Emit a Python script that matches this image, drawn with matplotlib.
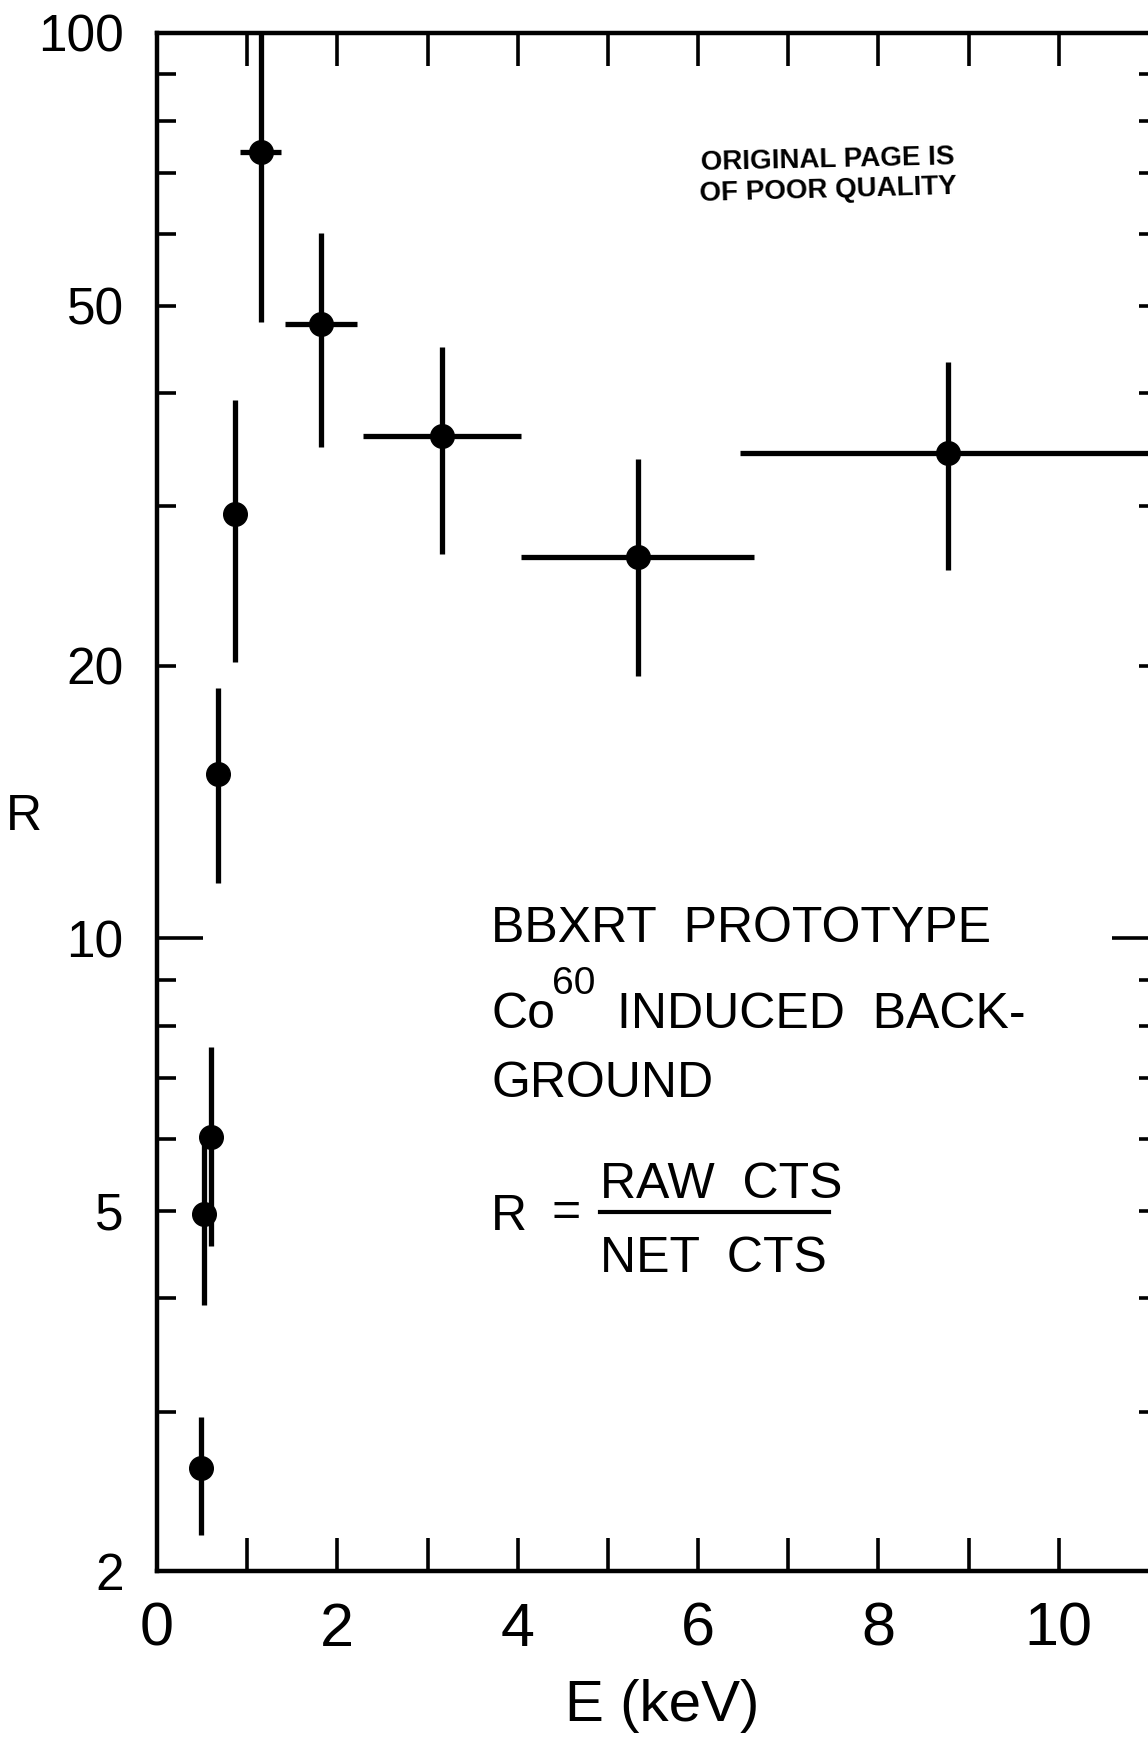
# -------------------------------------------------------------------------------------
# Library
import numpy as np
import matplotlib
matplotlib.use('Agg')
import matplotlib.pylab as plt
from matplotlib.lines import Line2D
from matplotlib.ticker import FixedLocator, NullFormatter
# -------------------------------------------------------------------------------------

# -------------------------------------------------------------------------------------
# Data
energy = [0.49, 0.52, 0.60, 0.68, 0.87, 1.15, 1.82, 3.16, 5.33, 8.77]
energy_halfwidth = [0.0, 0.0, 0.0, 0.0, 0.0, 0.23, 0.40, 0.88, 1.29, 2.30]
ratio = [2.60, 4.96, 6.03, 15.2, 29.4, 73.8, 47.7, 35.9, 26.4, 34.4]
ratio_hi = [2.96, 6.00, 7.58, 18.9, 39.3, 105.0, 60.2, 45.0, 33.8, 43.3]
ratio_lo = [2.19, 3.93, 4.57, 11.5, 20.2, 47.9, 34.9, 26.6, 19.5, 25.5]

x_ticks = list(range(0, 11))
x_tick_labels = ['0', '', '2', '', '4', '', '6', '', '8', '', '10']
y_ticks = [2, 5, 10, 20, 50, 100]
y_tick_labels = ['2', '5', '10', '20', '50', '100']
y_minor = [3, 4, 6, 7, 8, 9, 30, 40, 60, 70, 80, 90]
# -------------------------------------------------------------------------------------

plt.rcParams['font.family'] = ['Liberation Sans', 'DejaVu Sans']

W, H = 1148, 1738


# -------------------------------------------------------------------------------------
# Method to convert pixel position to figure fraction
def px(x, y):
    return x / W, 1 - y / H
# -------------------------------------------------------------------------------------


fig = plt.figure(figsize=(W / 100, H / 100), dpi=100)
left, right, top, bottom = 157, 1158, 33, 1571
ax = fig.add_axes([left / W, 1 - bottom / H, (right - left) / W, (bottom - top) / H])

ratio = np.array(ratio)
yerr = [ratio - np.array(ratio_lo), np.array(ratio_hi) - ratio]
ax.errorbar(energy, ratio, yerr=yerr, xerr=energy_halfwidth, fmt='o', color='black',
            ms=17, elinewidth=3.8, capsize=0)

ax.set_yscale('log')
ax.set_ylim(2, 100)
ax.set_xlim(0, 11.1)

for s in ax.spines.values():
    s.set_linewidth(3.2)

ax.set_xticks(x_ticks)
ax.set_xticklabels(x_tick_labels)
ax.tick_params(axis='x', which='major', direction='in', top=True, bottom=True,
               length=24, width=2.6, labelsize=44, pad=22)

ax.set_yticks(y_ticks)
ax.set_yticklabels(y_tick_labels)
ax.yaxis.set_minor_locator(FixedLocator(y_minor))
ax.yaxis.set_minor_formatter(NullFormatter())
ax.tick_params(axis='y', which='both', direction='in', left=True, right=True,
               length=14, width=2.6, labelsize=37, pad=24)
for t in ax.yaxis.get_major_ticks():
    if t.get_loc() == 10:
        t.tick1line.set_markersize(33)
        t.tick2line.set_markersize(33)

# axis labels
fig.text(*px(24, 817), 'R', fontsize=36, ha='center', va='center')
fig.text(*px(662, 1706), 'E (keV)', fontsize=42, ha='center', va='center')

# annotation block
fs = 36
fig.text(*px(491, 942), 'BBXRT  PROTOTYPE', fontsize=fs, va='baseline')
fig.text(*px(491, 1028), 'Co', fontsize=fs, va='baseline')
fig.text(*px(552, 994), '60', fontsize=28, va='baseline')
fig.text(*px(617, 1028), 'INDUCED  BACK-', fontsize=fs, va='baseline')
fig.text(*px(491, 1097), 'GROUND', fontsize=fs, va='baseline')
fig.text(*px(491, 1230), 'R', fontsize=fs, va='baseline')
fig.text(*px(551, 1226), '=', fontsize=fs, va='baseline')
fig.text(*px(600, 1198), 'RAW  CTS', fontsize=fs, va='baseline')
fig.text(*px(600, 1272), 'NET  CTS', fontsize=fs, va='baseline')
x0, y0 = px(600, 1212)
x1, y1 = px(829, 1212)
fig.add_artist(Line2D([x0, x1], [y0, y1], transform=fig.transFigure, color='black', lw=3))

# stamp
fig.text(*px(701, 170), 'ORIGINAL PAGE IS', fontsize=20, fontweight='bold',
         rotation=1.3, rotation_mode='anchor', ha='left', va='baseline')
fig.text(*px(700, 201), 'OF POOR QUALITY', fontsize=20, fontweight='bold',
         rotation=1.6, rotation_mode='anchor', ha='left', va='baseline')

fig.savefig('out.png', dpi=100)
